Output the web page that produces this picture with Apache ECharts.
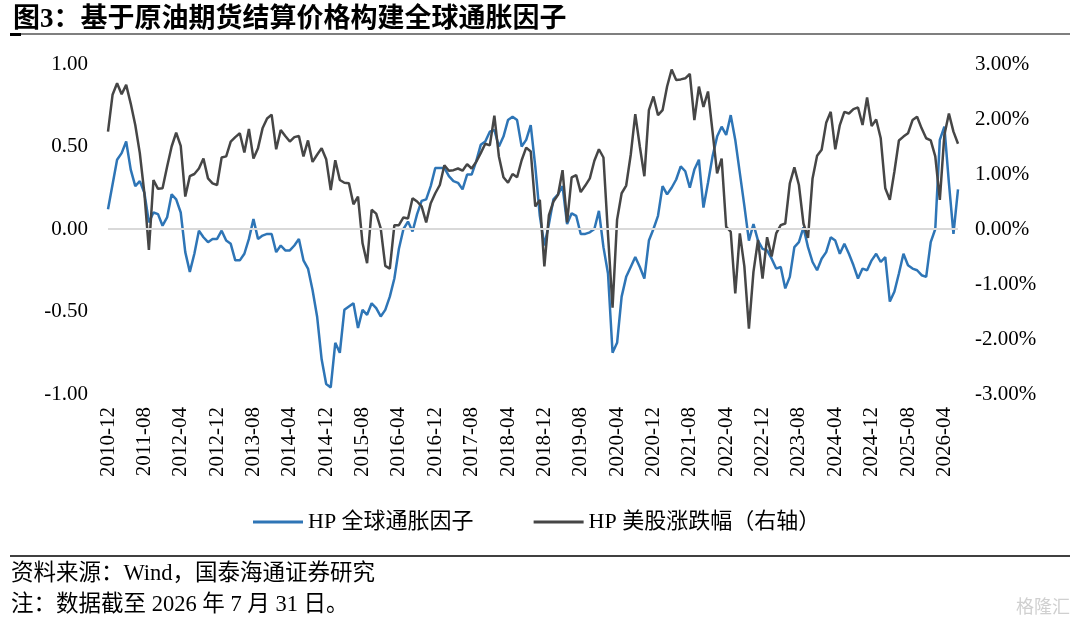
<!DOCTYPE html>
<html><head><meta charset="utf-8">
<script src="https://cdn.jsdelivr.net/npm/echarts@6/dist/echarts.min.js"></script>
<style>html,body{margin:0;padding:0;background:#fff}#c{width:1080px;height:622px}</style>
</head><body><div id="c"></div>
<script>
const months = [
'2010-12',
'2011-01','2011-02','2011-03','2011-04','2011-05','2011-06','2011-07','2011-08','2011-09','2011-10','2011-11','2011-12',
'2012-01','2012-02','2012-03','2012-04','2012-05','2012-06','2012-07','2012-08','2012-09','2012-10','2012-11','2012-12',
'2013-01','2013-02','2013-03','2013-04','2013-05','2013-06','2013-07','2013-08','2013-09','2013-10','2013-11','2013-12',
'2014-01','2014-02','2014-03','2014-04','2014-05','2014-06','2014-07','2014-08','2014-09','2014-10','2014-11','2014-12',
'2015-01','2015-02','2015-03','2015-04','2015-05','2015-06','2015-07','2015-08','2015-09','2015-10','2015-11','2015-12',
'2016-01','2016-02','2016-03','2016-04','2016-05','2016-06','2016-07','2016-08','2016-09','2016-10','2016-11','2016-12',
'2017-01','2017-02','2017-03','2017-04','2017-05','2017-06','2017-07','2017-08','2017-09','2017-10','2017-11','2017-12',
'2018-01','2018-02','2018-03','2018-04','2018-05','2018-06','2018-07','2018-08','2018-09','2018-10','2018-11','2018-12',
'2019-01','2019-02','2019-03','2019-04','2019-05','2019-06','2019-07','2019-08','2019-09','2019-10','2019-11','2019-12',
'2020-01','2020-02','2020-03','2020-04','2020-05','2020-06','2020-07','2020-08','2020-09','2020-10','2020-11','2020-12',
'2021-01','2021-02','2021-03','2021-04','2021-05','2021-06','2021-07','2021-08','2021-09','2021-10','2021-11','2021-12',
'2022-01','2022-02','2022-03','2022-04','2022-05','2022-06','2022-07','2022-08','2022-09','2022-10','2022-11','2022-12',
'2023-01','2023-02','2023-03','2023-04','2023-05','2023-06','2023-07','2023-08','2023-09','2023-10','2023-11','2023-12',
'2024-01','2024-02','2024-03','2024-04','2024-05','2024-06','2024-07','2024-08','2024-09','2024-10','2024-11','2024-12',
'2025-01','2025-02','2025-03','2025-04','2025-05','2025-06','2025-07','2025-08','2025-09','2025-10','2025-11','2025-12',
'2026-01','2026-02','2026-03','2026-04','2026-05','2026-06','2026-07'
];

// HP 全球通胀因子 (left axis)
const inflationFactor = [
0.12,
0.27,0.42,0.46,0.53,0.36,0.26,0.29,0.22,0.04,0.10,0.09,0.02,
0.07,0.21,0.18,0.10,-0.14,-0.26,-0.15,-0.01,-0.05,-0.08,-0.06,-0.06,
-0.01,-0.07,-0.09,-0.19,-0.19,-0.15,-0.06,0.06,-0.06,-0.04,-0.03,-0.03,
-0.14,-0.10,-0.13,-0.13,-0.10,-0.06,-0.19,-0.24,-0.37,-0.53,-0.79,-0.94,
-0.96,-0.69,-0.75,-0.49,-0.47,-0.45,-0.60,-0.49,-0.52,-0.45,-0.48,-0.53,
-0.49,-0.41,-0.30,-0.12,0.00,0.045,-0.015,0.09,0.17,0.18,0.26,0.37,
0.37,0.37,0.32,0.29,0.28,0.24,0.33,0.33,0.41,0.51,0.53,0.59,
0.60,0.50,0.56,0.66,0.68,0.66,0.50,0.54,0.63,0.38,0.08,-0.10,
0.03,0.18,0.21,0.26,0.03,0.095,0.08,-0.03,-0.03,-0.02,0.00,0.11,
-0.11,-0.27,-0.75,-0.69,-0.41,-0.29,-0.23,-0.17,-0.23,-0.30,-0.07,0.00,
0.08,0.26,0.21,0.25,0.30,0.38,0.35,0.25,0.36,0.42,0.13,0.28,
0.44,0.56,0.62,0.57,0.69,0.54,0.34,0.14,-0.07,0.03,-0.07,-0.12,
-0.13,-0.18,-0.24,-0.23,-0.36,-0.29,-0.11,-0.08,0.01,-0.11,-0.20,-0.25,
-0.18,-0.14,-0.05,-0.07,-0.15,-0.09,-0.15,-0.22,-0.30,-0.24,-0.25,-0.19,
-0.15,-0.20,-0.17,-0.44,-0.38,-0.27,-0.15,-0.22,-0.24,-0.25,-0.28,-0.29,
-0.08,0.00,0.54,0.62,0.28,-0.03,0.24
];

// HP 美股涨跌幅 (right axis, %)
const usEquity = [
1.77,
2.44,2.65,2.45,2.62,2.28,1.89,1.38,0.65,-0.38,0.89,0.73,0.74,
1.13,1.50,1.75,1.51,0.59,0.96,1.00,1.10,1.28,0.92,0.83,0.80,
1.30,1.32,1.59,1.67,1.74,1.39,1.82,1.28,1.47,1.83,2.01,2.08,
1.45,1.80,1.69,1.59,1.67,1.69,1.32,1.61,1.22,1.35,1.47,1.27,
0.71,1.25,0.89,0.84,0.83,0.45,0.59,-0.26,-0.62,0.35,0.28,0.01,
-0.67,-0.72,0.07,0.07,0.21,0.19,0.56,0.50,0.41,0.12,0.47,0.65,
0.80,1.16,1.06,1.07,1.10,1.06,1.18,1.10,1.22,1.38,1.55,1.52,
2.06,1.32,0.94,0.84,1.00,0.94,1.25,1.48,1.41,0.41,0.53,-0.68,
0.25,0.50,0.62,1.07,0.12,0.94,0.98,0.67,0.79,0.92,1.24,1.45,
1.30,-0.10,-1.43,0.17,0.65,0.79,1.35,2.09,1.50,0.96,2.16,2.41,
2.07,2.16,2.59,2.90,2.71,2.72,2.74,2.82,1.98,2.59,2.22,2.50,
1.77,1.01,1.28,0.04,-0.05,-1.17,-0.08,-0.68,-1.81,-0.78,-0.20,-0.90,
-0.15,-0.50,-0.08,0.07,0.10,0.83,1.12,0.80,0.10,-0.16,0.92,1.33,
1.44,1.93,2.13,1.45,1.89,2.13,2.10,2.18,2.21,1.89,2.39,1.87,
1.99,1.65,0.74,0.53,1.04,1.61,1.68,1.74,1.98,2.04,1.83,1.65,
1.61,1.32,0.53,1.71,2.10,1.77,1.55
];

const leftTicks = {min: -1, max: 1, interval: 0.5};
const rightTicks = {min: -3, max: 3, interval: 1};

const serif = "'Liberation Serif','Noto Sans CJK SC',serif";
const chart = echarts.init(document.getElementById('c'), null, {renderer: 'canvas'});
chart.setOption({
  animation: false,
  backgroundColor: '#fff',
  title: {
    text: '图3：基于原油期货结算价格构建全球通胀因子',
    left: 8, top: 2,
    textStyle: {fontFamily: serif, fontSize: 27, fontWeight: 'bold', color: '#000'}
  },
  graphic: [
    {type: 'line', shape: {x1: 10, y1: 34, x2: 1070, y2: 34}, style: {stroke: '#000', lineWidth: 1.2}},
    {type: 'rect', shape: {x: 10, y: 33, width: 11, height: 3}, style: {fill: '#000'}},
    {type: 'line', shape: {x1: 10, y1: 556, x2: 1070, y2: 556}, style: {stroke: '#000', lineWidth: 1.6}},
    {type: 'text', left: 11, top: 563, style: {text: '资料来源：Wind，国泰海通证券研究', font: "22.5px 'Liberation Serif','Noto Sans CJK SC'", fill: '#000'}},
    {type: 'text', left: 11, top: 594, style: {text: '注：数据截至 2026 年 7 月 31 日。', font: "22.5px 'Liberation Serif','Noto Sans CJK SC'", fill: '#000'}},
    {type: 'text', left: 1016, top: 597, style: {text: '格隆汇', font: "18px 'Noto Sans CJK SC'", fill: '#d0d0d0'}}
  ],
  legend: {
    left: 248, top: 506,
    itemWidth: 50, itemHeight: 3, itemGap: 60,
    icon: 'rect',
    textStyle: {fontFamily: serif, fontSize: 22, color: '#000'},
    data: ['HP 全球通胀因子', 'HP 美股涨跌幅（右轴）']
  },
  grid: {left: 108, right: 122, top: 64, bottom: 228, containLabel: false},
  xAxis: {
    type: 'category',
    data: months,
    boundaryGap: false,
    axisLine: {show: false},
    axisTick: {show: false},
    axisLabel: {interval: 7, rotate: 90, margin: 13, fontFamily: serif, fontSize: 21, color: '#000'},
    splitLine: {show: false}
  },
  yAxis: [
    {
      type: 'value', min: leftTicks.min, max: leftTicks.max, interval: leftTicks.interval,
      axisLine: {show: false}, axisTick: {show: false}, splitLine: {show: false},
      axisLabel: {margin: 20, fontFamily: serif, fontSize: 21, color: '#000', formatter: v => v.toFixed(2)}
    },
    {
      type: 'value', min: rightTicks.min, max: rightTicks.max, interval: rightTicks.interval,
      axisLine: {show: false}, axisTick: {show: false}, splitLine: {show: false},
      axisLabel: {margin: 17, fontFamily: serif, fontSize: 21, color: '#000', formatter: v => v.toFixed(2) + '%'}
    }
  ],
  series: [
    {
      name: 'HP 全球通胀因子', type: 'line', yAxisIndex: 0, data: inflationFactor,
      symbol: 'none', smooth: false,
      lineStyle: {color: '#2E75B6', width: 2.5}, itemStyle: {color: '#2E75B6'},
      markLine: {silent: true, symbol: 'none', label: {show: false},
        lineStyle: {color: '#D9D9D9', width: 2, type: 'solid'}, data: [{yAxis: 0}]}
    },
    {
      name: 'HP 美股涨跌幅（右轴）', type: 'line', yAxisIndex: 1, data: usEquity,
      symbol: 'none', smooth: false,
      lineStyle: {color: '#464646', width: 2.5}, itemStyle: {color: '#464646'}
    }
  ]
});
</script></body></html>
